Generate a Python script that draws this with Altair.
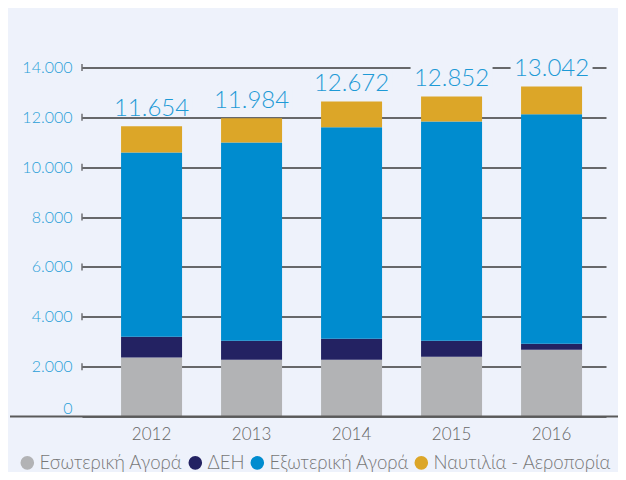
import altair as alt
import pandas as pd

years = ["2012", "2013", "2014", "2015", "2016"]
series = ["Εσωτερική Αγορά", "ΔΕΗ", "Εξωτερική Αγορά", "Ναυτιλία - Αεροπορία"]
colors = ["#b2b3b5", "#232262", "#008ccf", "#dca628"]

esoteriki = [2370, 2280, 2280, 2400, 2680]
deh = [830, 760, 840, 640, 240]
exoteriki = [7390, 7950, 8480, 8790, 9200]
naftilia = [1050, 970, 1040, 1010, 1120]

total_labels = ["11.654", "11.984", "12.672", "12.852", "13.042"]
y_ticks = [0, 2000, 4000, 6000, 8000, 10000, 12000, 14000]

values = [esoteriki, deh, exoteriki, naftilia]
rows = []
for si, (name, vals) in enumerate(zip(series, values)):
    for y, v in zip(years, vals):
        rows.append({"year": y, "series": name, "value": v, "order": si})
df = pd.DataFrame(rows)

totals = pd.DataFrame({
    "year": years,
    "total": [sum(v[i] for v in values) for i in range(len(years))],
    "label": total_labels,
})
grid_df = pd.DataFrame({"g": [t for t in y_ticks if t > 0]})

FONT = "Lato"
BG = "#eef2fb"
W, H = 524, 349

x_enc = alt.X("year:N", sort=years,
              scale=alt.Scale(paddingInner=0.39, paddingOuter=0.315, align=0.62),
              axis=alt.Axis(title=None, domain=False, ticks=False, labelAngle=0,
                            labelFont=FONT, labelFontWeight=300, labelFontSize=17,
                            labelColor="#666666", labelPadding=10, grid=False))
y_scale = alt.Scale(domain=[0, 14000], nice=False)

bars = alt.Chart(df).mark_bar().encode(
    x=x_enc,
    y=alt.Y("value:Q", stack="zero", scale=y_scale,
            axis=alt.Axis(title=None, values=y_ticks, domain=False, ticks=False,
                          labelFont=FONT, labelFontWeight=300, labelFontSize=16,
                          labelColor="#2a9fd8", labelPadding=10,
                          labelBaseline=alt.condition("datum.value == 0", alt.value("bottom"), alt.value("middle")),
                          labelExpr="replace(format(datum.value, ','), ',', '.')",
                          grid=True, gridColor="#3a3a3a", gridWidth=1.5)),
    color=alt.Color("series:N", sort=series,
                    scale=alt.Scale(domain=series, range=colors),
                    legend=alt.Legend(title=None, orient="none", direction="horizontal",
                                      legendX=-64, legendY=386, symbolType="circle",
                                      symbolSize=185, symbolStrokeWidth=0,
                                      labelFont=FONT, labelFontWeight=300, labelFontSize=18.6,
                                      labelColor="#777777",
                                      labelLimit=300, labelOffset=3, columnPadding=3,
                                      columns=4)),
    order=alt.Order("order:Q"),
)

caps = alt.Chart(grid_df).mark_point(shape="stroke", angle=90, size=49, strokeWidth=1.5,
                                     color="#3a3a3a", filled=False).encode(
    y=alt.Y("g:Q", scale=y_scale),
    x=alt.value(0),
)

baseline = alt.Chart(pd.DataFrame({"b": [0]})).mark_rule(color="#5a5a5a", strokeWidth=2).encode(
    y=alt.Y("b:Q", scale=y_scale),
    x=alt.value(-72),
    x2=alt.value(W + 12),
)

label_mask = alt.Chart(totals).mark_tick(orient="horizontal", thickness=20, size=82,
                                         color=BG, opacity=1, yOffset=-20).encode(
    x=alt.X("year:N", sort=years),
    y=alt.Y("total:Q", scale=y_scale),
)

labels = alt.Chart(totals).mark_text(font=FONT, fontWeight=300, fontSize=24, color="#1e9ad6",
                                     baseline="alphabetic", dy=-10).encode(
    x=alt.X("year:N", sort=years),
    y=alt.Y("total:Q", scale=y_scale),
    text="label:N",
)

chart = alt.layer(bars, caps, baseline, label_mask, labels).properties(
    width=W, height=H,
    autosize=alt.AutoSizeParams(type="none"),
    padding={"left": 74, "top": 59.5, "right": 12, "bottom": 55.5},
    background=BG,
).configure_view(stroke=None)

chart.save("out.html", embed_options={"renderer": "svg", "actions": False})
